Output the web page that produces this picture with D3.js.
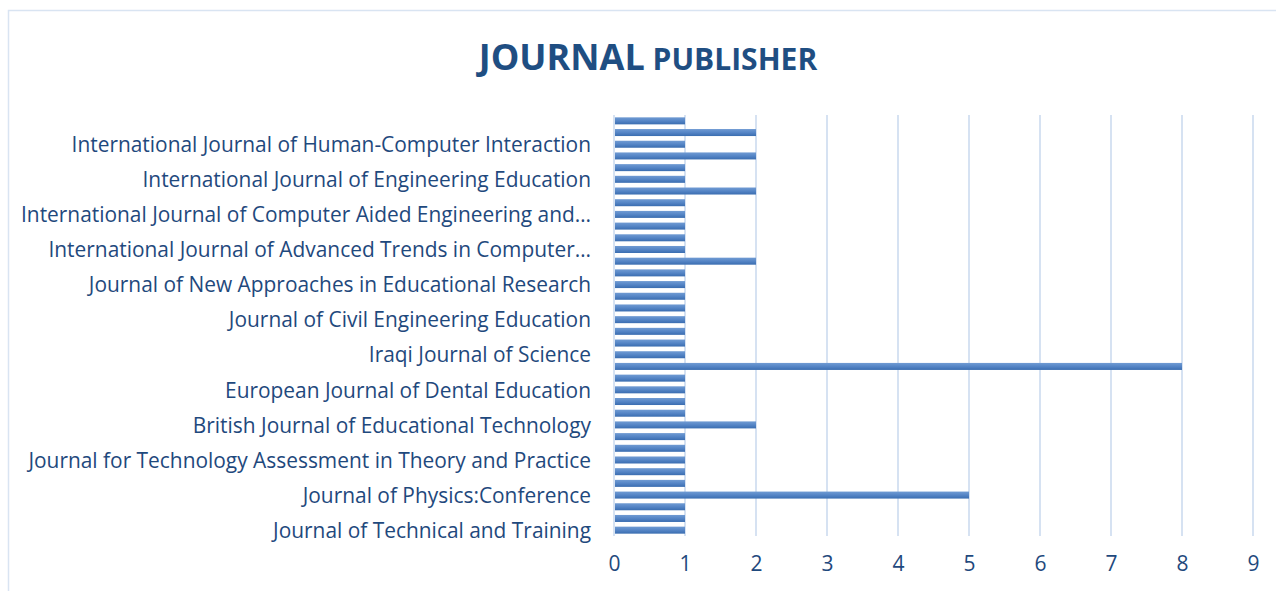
<!DOCTYPE html>
<html><head><meta charset="utf-8">
<script src="https://cdn.jsdelivr.net/npm/d3@7"></script>
<style>body{margin:0;background:#fff}svg{display:block}</style>
</head><body>
<svg id="c" width="1276" height="591"></svg>
<script>
// Categories listed bottom (first) to top (last); unreadable names left blank
const categories = [
 "Journal of Technical and Training","","",
 "Journal of Physics:Conference","","",
 "Journal for Technology Assessment in Theory and Practice","","",
 "British Journal of Educational Technology","","",
 "European Journal of Dental Education","","",
 "Iraqi Journal of Science","","",
 "Journal of Civil Engineering Education","","",
 "Journal of New Approaches in Educational Research","","",
 "International Journal of Advanced Trends in Computer…","","",
 "International Journal of Computer Aided Engineering and…","","",
 "International Journal of Engineering Education","","",
 "International Journal of Human-Computer Interaction","",""
];
const values = [1,1,1,5,1,1,1,1,1,2,1,1,1,1,8,1,1,1,1,1,1,1,1,2,1,1,1,1,1,2,1,1,2,1,2,1];
const xTicks = [0,1,2,3,4,5,6,7,8,9];
const titleMain = "JOURNAL";
const titleSub = "PUBLISHER";

const svg = d3.select("#c");
const textColor = "#1f497d";
const font = "'Open Sans', sans-serif";

// chart border
svg.append("rect").attr("x",8.5).attr("y",10.5).attr("width",1280).attr("height",600)
  .attr("fill","none").attr("stroke","#d9e4f2").attr("stroke-width",1.5);

const x = d3.scaleLinear().domain([0,9]).range([614,1253]);
const idx = d3.range(categories.length);
const y = d3.scaleBand().domain(idx).range([536,115]).paddingInner(0.4).paddingOuter(0.2);

const defs = svg.append("defs");
const g = defs.append("linearGradient").attr("id","bg").attr("x1",0).attr("y1",0).attr("x2",0).attr("y2",1);
g.append("stop").attr("offset","0%").attr("stop-color","#709bd3");
g.append("stop").attr("offset","50%").attr("stop-color","#5585c6");
g.append("stop").attr("offset","100%").attr("stop-color","#3a6db0");

// gridlines
svg.append("g").selectAll("line").data(xTicks).join("line")
  .attr("x1",d=>x(d)).attr("x2",d=>x(d)).attr("y1",115).attr("y2",536)
  .attr("stroke","#d6e2f2").attr("stroke-width",2);

// bars
svg.append("g").selectAll("rect").data(idx).join("rect")
  .attr("x",x(0)+1).attr("y",i=>y(i)).attr("height",y.bandwidth())
  .attr("width",i=>x(values[i])-x(0)-1).attr("fill","url(#bg)");

// y axis labels
const yAxis = d3.axisLeft(y).tickSize(0).tickPadding(0)
  .tickValues(idx.filter(i=>i%3===0)).tickFormat(i=>categories[i]);
const ya = svg.append("g").attr("transform","translate(591,1)").call(yAxis);
ya.select(".domain").remove();
ya.selectAll("text").attr("fill",textColor).attr("font-family",font).attr("font-size",20.9);

// x axis labels
const xAxis = d3.axisBottom(x).tickValues(xTicks).tickSize(0).tickPadding(0);
const xa = svg.append("g").attr("transform","translate(0,556)").call(xAxis);
xa.select(".domain").remove();
xa.selectAll("text").attr("fill",textColor).attr("font-family",font).attr("font-size",21);

// title
const t = svg.append("text").attr("x",648).attr("y",70).attr("text-anchor","middle")
  .attr("fill","#1f4e82").attr("font-family",font).attr("font-weight","bold");
t.append("tspan").attr("font-size",36).text(titleMain);
t.append("tspan").attr("font-size",30).text(" "+titleSub);
</script>
</body></html>
